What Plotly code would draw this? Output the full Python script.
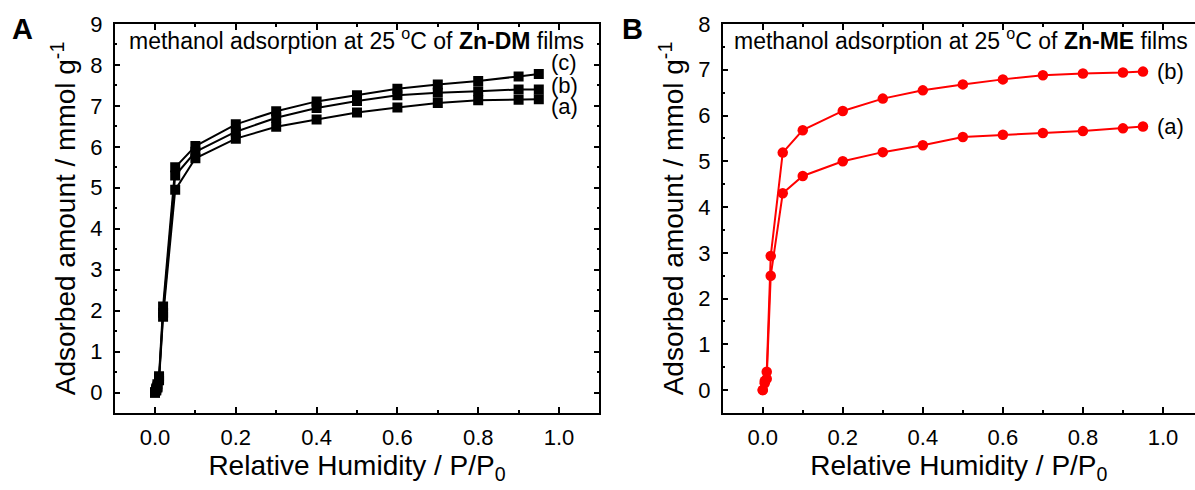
import plotly.graph_objects as go

# ---------------- data ----------------
rh_dm = [0, 0.003, 0.006, 0.01, 0.02, 0.05, 0.1, 0.2, 0.3, 0.4, 0.5, 0.6, 0.7, 0.8, 0.9, 0.95]
dm_a = [0, 0.05, 0.12, 0.30, 1.85, 4.95, 5.72, 6.20, 6.49, 6.67, 6.84, 6.96, 7.07, 7.14, 7.15, 7.16]
dm_b = [0, 0.07, 0.15, 0.35, 1.95, 5.30, 5.88, 6.37, 6.71, 6.95, 7.12, 7.26, 7.32, 7.36, 7.40, 7.40]
dm_c = [0, 0.10, 0.20, 0.40, 2.10, 5.50, 6.02, 6.55, 6.87, 7.11, 7.26, 7.42, 7.52, 7.61, 7.72, 7.78]

rh_me = [0, 0.005, 0.01, 0.02, 0.05, 0.1, 0.2, 0.3, 0.4, 0.5, 0.6, 0.7, 0.8, 0.9, 0.95]
me_a = [0, 0.15, 0.25, 2.50, 4.30, 4.68, 5.00, 5.20, 5.35, 5.53, 5.58, 5.62, 5.66, 5.72, 5.76]
me_b = [0, 0.20, 0.40, 2.93, 5.19, 5.68, 6.10, 6.37, 6.55, 6.68, 6.79, 6.88, 6.92, 6.94, 6.96]

x_ticks = [0.0, 0.2, 0.4, 0.6, 0.8, 1.0]

FONT = "Arial, 'Liberation Sans', sans-serif"
W, H = 1195, 490
TICK_FS = 22
TITLE_FS = 28

fig = go.Figure()

for ys in (dm_a, dm_b, dm_c):
    fig.add_trace(go.Scatter(
        x=rh_dm, y=ys, mode="lines+markers", xaxis="x", yaxis="y",
        line=dict(color="black", width=2),
        marker=dict(symbol="square", size=10, color="black"),
        showlegend=False, hoverinfo="skip"))

for ys in (me_a, me_b):
    fig.add_trace(go.Scatter(
        x=rh_me, y=ys, mode="lines+markers", xaxis="x2", yaxis="y2",
        line=dict(color="#ff0000", width=2),
        marker=dict(symbol="circle", size=10.5, color="#ff0000"),
        showlegend=False, hoverinfo="skip"))

ydom = [77 / H, 1 - 24 / H]


def xax(domain, rng, anchor):
    return dict(
        domain=domain, range=rng, anchor=anchor, automargin=False,
        tickmode="array", tickvals=x_ticks, ticktext=[f"{v:.1f}" for v in x_ticks],
        ticks="inside", ticklen=6, tickwidth=1.5, tickcolor="black",
        minor=dict(tickmode="array", tickvals=[0.1, 0.3, 0.5, 0.7, 0.9],
                   ticks="inside", ticklen=3, tickwidth=1.5, tickcolor="black"),
        showline=True, linewidth=1.5, linecolor="black", mirror="ticks",
        showgrid=False, zeroline=False,
        tickfont=dict(family=FONT, size=TICK_FS, color="black"),
        ticklabelstandoff=4,
        title=dict(text="Relative Humidity / P/P<sub>0</sub>",
                   font=dict(family=FONT, size=TITLE_FS, color="black"), standoff=0),
    )


def yax(domain, rng, anchor, ymax, mirror):
    return dict(
        domain=domain, range=rng, anchor=anchor, automargin=False,
        tickmode="array", tickvals=list(range(0, ymax + 1)),
        ticks="inside", ticklen=6, tickwidth=1.5, tickcolor="black",
        minor=dict(tickmode="array", tickvals=[i + 0.5 for i in range(0, ymax)],
                   ticks="inside", ticklen=3, tickwidth=1.5, tickcolor="black"),
        showline=True, linewidth=1.5, linecolor="black", mirror=mirror,
        showgrid=False, zeroline=False,
        tickfont=dict(family=FONT, size=TICK_FS, color="black"),
        ticklabelstandoff=6,
        title=dict(text="Adsorbed amount / mmol g<sup>-1</sup>",
                   font=dict(family=FONT, size=TITLE_FS, color="black"), standoff=6),
    )


fig.update_layout(
    width=W, height=H,
    margin=dict(l=0, r=0, t=0, b=0),
    paper_bgcolor="white", plot_bgcolor="white",
    font=dict(family=FONT, color="black"),
    xaxis=xax([114.6 / W, 599.4 / W], [-0.1, 1.1], "y"),
    yaxis=yax(ydom, [-0.5, 9], "x", 9, "ticks"),
    xaxis2=xax([722.7 / W, 1.0], [-0.1, 1.08], "y2"),
    yaxis2=yax(ydom, [-0.5, 8], "x2", 8, False),
)


def ann(text, x, y, xref="paper", yref="paper", size=TICK_FS, xanchor="center"):
    return dict(text=text, x=x, y=y, xref=xref, yref=yref, showarrow=False,
                xanchor=xanchor, yanchor="middle",
                font=dict(family=FONT, size=size, color="black"))


annos = [
    ann("<b>A</b>", 22 / W, 1 - 29 / H, size=29),
    ann("<b>B</b>", 632 / W, 1 - 29 / H, size=29),
    ann("methanol adsorption at 25 <sup>o</sup>C of <b>Zn-DM</b> films", 356 / W, 1 - 39 / H, size=23),
    ann("methanol adsorption at 25 <sup>o</sup>C of <b>Zn-ME</b> films", 961 / W, 1 - 39 / H, size=23),
    ann("(c)", 0.975, 8.05, "x", "y", xanchor="left"),
    ann("(b)", 0.975, 7.49, "x", "y", xanchor="left"),
    ann("(a)", 0.975, 6.98, "x", "y", xanchor="left"),
    ann("(b)", 0.98, me_b[-1], "x2", "y2", xanchor="left"),
    ann("(a)", 0.98, me_a[-1], "x2", "y2", xanchor="left"),
]
fig.update_layout(annotations=annos)

fig.write_html("out.html")
